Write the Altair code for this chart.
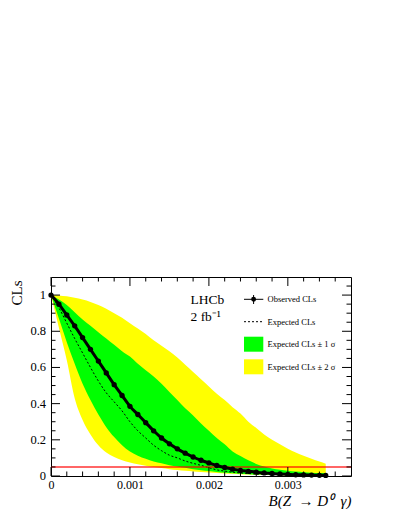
import altair as alt
import pandas as pd

# ---------------- data ----------------
B = [0.0, 0.0001, 0.0002, 0.0003, 0.0004, 0.0005, 0.0006, 0.0007, 0.0008, 0.0009,
     0.0010, 0.0011, 0.0012, 0.0013, 0.0014, 0.0015, 0.0016, 0.0017, 0.0018, 0.0019,
     0.0020, 0.0021, 0.0022, 0.0023, 0.0024, 0.0025, 0.0026, 0.0027, 0.0028, 0.0029,
     0.0030, 0.0031, 0.0032, 0.0033, 0.0034, 0.00348]

observed = [1.0, 0.95, 0.89, 0.83, 0.765, 0.70, 0.635, 0.57, 0.505, 0.445,
            0.385, 0.34, 0.295, 0.25, 0.21, 0.178, 0.15, 0.126, 0.105, 0.087,
            0.072, 0.058, 0.047, 0.038, 0.031, 0.026, 0.021, 0.017, 0.014, 0.011,
            0.009, 0.007, 0.006, 0.005, 0.004, 0.003]

expected = [1.0, 0.93, 0.845, 0.76, 0.68, 0.60, 0.525, 0.46, 0.41, 0.36,
            0.30, 0.25, 0.21, 0.17, 0.14, 0.115, 0.10, 0.083, 0.07, 0.059,
            0.046, 0.034, 0.027, 0.021, 0.017, 0.014, 0.011, 0.009, 0.007, 0.006,
            0.005, 0.004, 0.003, 0.003, 0.002, 0.002]

green_hi = [1.0, 0.975, 0.945, 0.905, 0.865, 0.83, 0.795, 0.76, 0.725, 0.69,
            0.66, 0.62, 0.585, 0.55, 0.51, 0.465, 0.42, 0.375, 0.335, 0.29,
            0.25, 0.21, 0.175, 0.135, 0.11, 0.087, 0.067, 0.052, 0.042, 0.035,
            0.029, 0.025, 0.021, 0.018, 0.016, 0.015]

green_lo = [1.0, 0.87, 0.74, 0.62, 0.51, 0.42, 0.34, 0.27, 0.215, 0.17,
            0.135, 0.112, 0.095, 0.08, 0.07, 0.06, 0.052, 0.045, 0.038, 0.032,
            0.027, 0.022, 0.018, 0.015, 0.012, 0.01, 0.008, 0.007, 0.006, 0.005,
            0.004, 0.003, 0.003, 0.002, 0.002, 0.002]

yellow_hi = [1.0, 0.998, 0.993, 0.985, 0.975, 0.962, 0.945, 0.925, 0.90, 0.875,
             0.845, 0.815, 0.785, 0.75, 0.72, 0.69, 0.655, 0.615, 0.575, 0.535,
             0.495, 0.455, 0.42, 0.38, 0.345, 0.30, 0.265, 0.23, 0.20, 0.175,
             0.15, 0.13, 0.112, 0.095, 0.08, 0.068]

yellow_lo = [1.0, 0.82, 0.64, 0.43, 0.31, 0.23, 0.17, 0.13, 0.105, 0.087,
             0.075, 0.065, 0.057, 0.05, 0.044, 0.038, 0.033, 0.029, 0.025, 0.022,
             0.019, 0.016, 0.014, 0.012, 0.01, 0.008, 0.007, 0.006, 0.005, 0.004,
             0.003, 0.003, 0.002, 0.002, 0.001, 0.001]

cls_limit = [0.05]

x_major = [0.0, 0.001, 0.002, 0.003]
x_minor = [0.0002, 0.0004, 0.0006, 0.0008, 0.0012, 0.0014, 0.0016, 0.0018,
           0.0022, 0.0024, 0.0026, 0.0028, 0.0032, 0.0034, 0.0036]
y_major = [0.0, 0.2, 0.4, 0.6, 0.8, 1.0]
y_major_labels = ["0", "0.2", "0.4", "0.6", "0.8", "1"]
y_minor = [0.05, 0.1, 0.15, 0.25, 0.3, 0.35, 0.45, 0.5, 0.55, 0.65, 0.7, 0.75,
           0.85, 0.9, 0.95, 1.05]

x_title = "B(Z\u00a0\u00a0\u2192 D\u2070\u00a0\u00a0\u03b3)"
y_title = "CLs"
legend_labels = ["Observed CLs", "Expected CLs",
                 "Expected CLs \u00b1 1 \u03c3", "Expected CLs \u00b1 2 \u03c3"]
experiment = "LHCb"
lumi = "2 fb\u207b\u00b9"

# ---------------- chart ----------------
W, H = 300, 199
FONT = "Liberation Serif"

df = pd.DataFrame(dict(B=B, obs=observed, exp=expected, g_hi=green_hi,
                       g_lo=green_lo, y_hi=yellow_hi, y_lo=yellow_lo))
one = pd.DataFrame({"a": [0]})

xs = alt.Scale(domain=[0, 0.0038], nice=False, zero=False)
ys = alt.Scale(domain=[0, 1.1], nice=False)

xaxis = alt.Axis(values=x_major, format="~g", ticks=False, domain=False, grid=False,
                 labelFont=FONT, labelFontSize=12, labelColor="black", labelPadding=3,
                 labelFlush=False, labelOverlap=False,
                 title=x_title, titleFont=FONT, titleFontSize=15, titleFontStyle="italic",
                 titleFontWeight="normal", titleColor="black", titleAlign="right",
                 titleAnchor="end", titleX=W, titleY=29, titleBaseline="alphabetic")
yaxis = alt.Axis(values=y_major, labels=False, ticks=False, domain=False, grid=False,
                 title=y_title, titleFont=FONT, titleFontSize=15, titleFontWeight="normal",
                 titleColor="black", titleAngle=270, titleAlign="right",
                 titleX=-30, titleY=3, titleBaseline="alphabetic")

X = lambda f: alt.X(f, scale=xs)
Y = lambda f: alt.Y(f, scale=ys)

yellow = alt.Chart(df).mark_area(color="#ffff00", interpolate="monotone").encode(
    x=alt.X("B:Q", scale=xs, axis=xaxis),
    y=alt.Y("y_hi:Q", scale=ys, axis=yaxis),
    y2="y_lo:Q")

green = alt.Chart(df).mark_area(color="#00ff00", interpolate="monotone").encode(
    x=X("B:Q"), y=Y("g_hi:Q"), y2="g_lo:Q")

exp_line = alt.Chart(df).mark_line(color="black", strokeWidth=1, strokeDash=[2, 2],
                                   interpolate="monotone").encode(
    x=X("B:Q"), y=Y("exp:Q"))

red = alt.Chart(pd.DataFrame({"v": cls_limit})).mark_rule(
    color="red", opacity=0.6, strokeWidth=2).encode(y=Y("v:Q"))

obs_line = alt.Chart(df).mark_line(color="black", strokeWidth=3,
                                   interpolate="monotone").encode(
    x=X("B:Q"), y=Y("obs:Q"))

obs_pts = alt.Chart(df).mark_circle(color="black", size=28, opacity=1).encode(
    x=X("B:Q"), y=Y("obs:Q"))


def xticks(vals, length):
    d = pd.DataFrame({"t": vals})
    bot = alt.Chart(d).mark_rule(color="black", strokeWidth=1).encode(
        x=X("t:Q"), y=alt.value(H), y2=alt.value(H - length))
    top = alt.Chart(d).mark_rule(color="black", strokeWidth=1).encode(
        x=X("t:Q"), y=alt.value(0), y2=alt.value(length))
    return [bot, top]


def yticks(vals, length):
    d = pd.DataFrame({"t": vals})
    left = alt.Chart(d).mark_rule(color="black", strokeWidth=1).encode(
        y=Y("t:Q"), x=alt.value(0), x2=alt.value(length))
    right = alt.Chart(d).mark_rule(color="black", strokeWidth=1).encode(
        y=Y("t:Q"), x=alt.value(W), x2=alt.value(W - length))
    return [left, right]


ticks = xticks(x_major, 9) + xticks(x_minor, 4.5) + yticks(y_major, 9) + yticks(y_minor, 4.5)

# y tick labels, placed through the y scale
ylab = alt.Chart(pd.DataFrame({"t": y_major, "lab": y_major_labels})).mark_text(
    font=FONT, fontSize=12.5, color="black", align="right", baseline="middle").encode(
    y=Y("t:Q"), x=alt.value(-5), text="lab:N")


def text(label, x, y, size, baseline="alphabetic"):
    return alt.Chart(one).mark_text(font=FONT, fontSize=size, color="black",
                                    align="left", baseline=baseline).encode(
        x=alt.value(x), y=alt.value(y), text=alt.value(label))


# LHCb label
lhcb = [text(experiment, 139.5, 26.5, 13.5), text(lumi, 139.5, 43.5, 13.5)]

# legend
LX0, LX1, TX = 193, 212.3, 216.5
leg = [
    alt.Chart(one).mark_rule(color="black", strokeWidth=1).encode(
        x=alt.value(LX0), x2=alt.value(LX1), y=alt.value(22.3)),
    alt.Chart(one).mark_rule(color="black", strokeWidth=1).encode(
        x=alt.value(202.6), y=alt.value(18), y2=alt.value(27)),
    alt.Chart(one).mark_circle(color="black", size=24, opacity=1).encode(
        x=alt.value(202.6), y=alt.value(22.3)),
    alt.Chart(one).mark_rule(color="black", strokeWidth=1, strokeDash=[2, 2]).encode(
        x=alt.value(LX0), x2=alt.value(LX1), y=alt.value(44.7)),
    alt.Chart(one).mark_rect(color="#00ff00").encode(
        x=alt.value(LX0), x2=alt.value(LX1), y=alt.value(59.7), y2=alt.value(74.7)),
    alt.Chart(one).mark_rect(color="#ffff00").encode(
        x=alt.value(LX0), x2=alt.value(LX1), y=alt.value(82.3), y2=alt.value(97.3)),
    text(legend_labels[0], TX, 22.3, 8.5, "middle"),
    text(legend_labels[1], TX, 44.7, 8.5, "middle"),
    text(legend_labels[2], TX, 67.2, 8.5, "middle"),
    text(legend_labels[3], TX, 89.8, 8.5, "middle"),
]

chart = alt.layer(yellow, green, exp_line, red, obs_line, obs_pts, *ticks, ylab,
                  *lhcb, *leg).properties(
    width=W, height=H,
    autosize=alt.AutoSizeParams(type="none"),
    padding={"left": 43, "top": 269, "right": 40, "bottom": 33},
    background="white",
).configure_view(stroke="black", strokeWidth=1).configure_axis(
    labelOverlap=False, labelFlush=False)

chart.save("out.html", embed_options={"renderer": "svg", "actions": False})
